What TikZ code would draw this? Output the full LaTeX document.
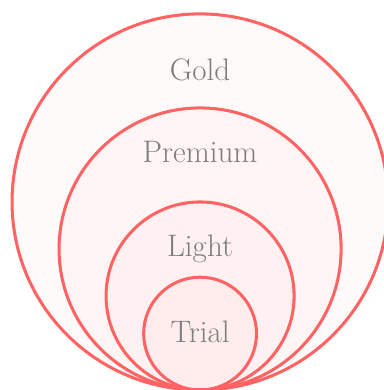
\documentclass[tikz,border=0pt]{standalone}
\usepackage{tikz}
\definecolor{ringred}{RGB}{255,99,99}
\definecolor{tiertext}{RGB}{125,125,125}
\tikzset{
  ring/.style={draw=ringred,line width=2.3pt,fill=ringred,fill opacity=0.03},
  tier/.style={anchor=base,font=\fontsize{23.5}{28}\selectfont,text=tiertext}
}

\begin{document}
\begin{tikzpicture}
  \useasboundingbox (-5.32,0) rectangle (4.87,10.37);
  % nested circles, all touching at the bottom point
  \foreach \r in {5,3.75,2.5,1.5}
    {\draw[ring] (0,\r) circle (\r);}
  % tier names
  \node[tier] (gold) at (0,8.24) {Gold};
  \node[tier] (premium) at (0,6.04) {Premium};
  \node[tier] (light) at (0,3.56) {Light};
  \node[tier] (trial) at (0,1.25) {Trial};
\end{tikzpicture}
\end{document}
